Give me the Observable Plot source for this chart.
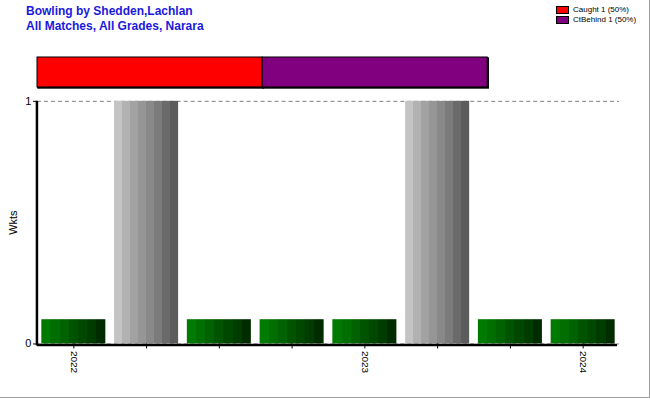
<!DOCTYPE html>
<html>
<head>
<meta charset="utf-8">
<script src="https://cdn.jsdelivr.net/npm/d3@7"></script>
<script src="https://cdn.jsdelivr.net/npm/@observablehq/plot@0.6"></script>
<style>
  html, body { margin: 0; padding: 0; background: #fff; }
  #wrap { position: relative; width: 649px; height: 397px; border-right: 1px solid #a0a0a0; border-bottom: 1px solid #a0a0a0; background: #fff; overflow: hidden; font-family: Arial, "Liberation Sans", sans-serif; }
  #title { position: absolute; left: 26px; top: 4px; color: #1a1adc; font-weight: bold; font-size: 12px; line-height: 15px; }
  #legend { position: absolute; left: 556px; top: 5px; font-size: 8px; color: #000; line-height: 10px; }
  #legend .row { display: flex; align-items: center; height: 10px; }
  #legend .sw { width: 11px; height: 6px; border: 1px solid #000; margin-right: 4px; }
  #band { position: absolute; left: 0; top: 54px; }
  #main { position: absolute; left: 0; top: 0; }
</style>
</head>
<body>
<div id="wrap">
  <div id="main"></div>
  <div id="band"></div>
  <div id="title">Bowling by Shedden,Lachlan<br>All Matches, All Grades, Narara</div>
  <div id="legend"></div>
</div>
<script>
// ---- data ----
const matchIndex = [0, 1, 2, 3, 4, 5, 6, 7];
const tickLabels = ["2022", "", "", "", "2023", "", "", "2024"];
const barHeights = [0.1, 1, 0.1, 0.1, 0.1, 1, 0.1, 0.1];
const barKind    = ["nil", "wkt", "nil", "nil", "nil", "wkt", "nil", "nil"];

const dismissalTypes  = ["Caught", "CtBehind"];
const dismissalCounts = [1, 1];
const dismissalLabels = ["Caught 1 (50%)", "CtBehind 1 (50%)"];
const dismissalColors = ["#ff0000", "#800080"];

const yTicks = [0, 1];

// ---- main chart ----
const bars = matchIndex.map((m, i) => ({m, v: barHeights[i], kind: barKind[i]}));

const main = Plot.plot({
  width: 650,
  height: 400,
  marginLeft: 37,
  marginRight: 30,
  marginTop: 101,
  marginBottom: 56,
  style: {fontFamily: "Arial, 'Liberation Sans', sans-serif", fontSize: "10px", background: "transparent"},
  x: {type: "band", domain: matchIndex, paddingInner: 0.12, paddingOuter: 0.06, round: false, label: null},
  y: {domain: [0, 1], label: null},
  marks: [
    Plot.ruleY([1], {stroke: "#808080", strokeDasharray: "4,3", strokeWidth: 1}),
    Plot.ruleY([0], {stroke: "#808080", strokeDasharray: "4,3", strokeWidth: 1}),
    Plot.barY(bars, {x: "m", y: "v", fill: d => d.kind === "nil" ? "url(#gGreen)" : "url(#gGray)"}),
    Plot.axisY({ticks: yTicks, tickFormat: d3.format("d"), tickSize: 4, tickPadding: 2, fontSize: 11,
      label: "Wkts", labelAnchor: "center", labelArrow: "none", labelOffset: 28}),
    Plot.axisX({tickSize: 5, tickRotate: 90, tickPadding: 2, fontSize: 10, label: null,
      tickFormat: d => tickLabels[d]})
  ]
});

// gradients
const svg = d3.select(main);
const defs = svg.insert("defs", ":first-child");
function stepped(id, colors) {
  const g = defs.append("linearGradient").attr("id", id).attr("x1", "0").attr("x2", "1").attr("y1", "0").attr("y2", "0");
  const n = colors.length;
  colors.forEach((c, i) => {
    g.append("stop").attr("offset", i / n).attr("stop-color", c);
    g.append("stop").attr("offset", (i + 1) / n).attr("stop-color", c);
  });
}
stepped("gGreen", ["#007a00", "#006e00", "#006200", "#005400", "#004800", "#003c00", "#002c00"]);
stepped("gGray", ["#c4c4c4", "#b2b2b2", "#a2a2a2", "#969696", "#898989", "#7b7b7b", "#6a6a6a", "#5c5c5c"]);

document.getElementById("main").appendChild(main);

// black axis lines placed through the plot's own scales
const ys = main.scale("y");
const y0 = ys.apply(0), y1 = ys.apply(1);
const xl = 37, xr = 618;
svg.append("line").attr("x1", xl).attr("x2", xl).attr("y1", y1).attr("y2", y0 + 2).attr("stroke", "#000").attr("stroke-width", 2.5);
svg.append("line").attr("x1", xl).attr("x2", xr).attr("y1", y0 + 1.5).attr("y2", y0 + 1.5).attr("stroke", "#000").attr("stroke-width", 2.5);

// ---- dismissal band ----
const dism = dismissalTypes.map((t, i) => ({t, c: dismissalCounts[i]}));
const band = Plot.plot({
  width: 650,
  height: 36,
  marginLeft: 37,
  marginRight: 162,
  marginTop: 3,
  marginBottom: 3,
  style: {background: "transparent"},
  x: {domain: [0, d3.sum(dismissalCounts)], axis: null},
  y: {axis: null},
  color: {domain: dismissalTypes, range: dismissalColors},
  marks: [
    Plot.rectX(dism, Plot.stackX({x: "c", stroke: "#000", strokeWidth: 1.5, dx: 1, dy: 1, fill: "#000"})),
    Plot.rectX(dism, Plot.stackX({x: "c", fill: "t", stroke: "#000", strokeWidth: 1}))
  ]
});
document.getElementById("band").appendChild(band);

// ---- legend ----
const leg = document.getElementById("legend");
dismissalLabels.forEach((lab, i) => {
  const r = document.createElement("div");
  r.className = "row";
  const sw = document.createElement("span");
  sw.className = "sw";
  sw.style.background = dismissalColors[i];
  const tx = document.createElement("span");
  tx.textContent = lab;
  r.appendChild(sw); r.appendChild(tx);
  leg.appendChild(r);
});
</script>
</body>
</html>
